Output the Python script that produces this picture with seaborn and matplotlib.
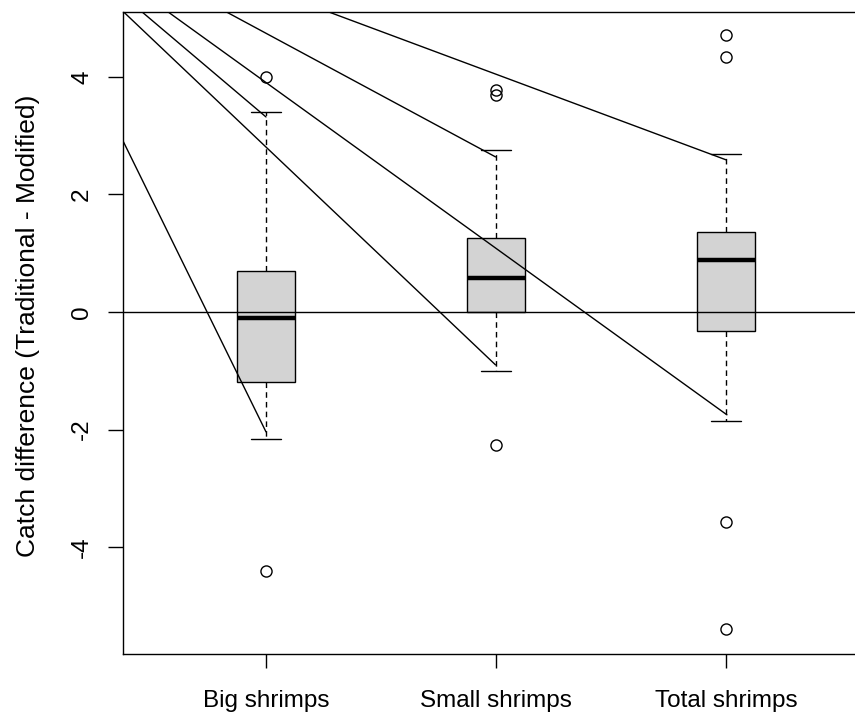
import matplotlib
matplotlib.use("Agg")
import matplotlib.pyplot as plt
import seaborn as sns
import pandas as pd

# ---- data ----
categories = ["Big shrimps", "Small shrimps", "Total shrimps"]
big_shrimps = [-4.40, -2.16, -1.60, -1.20, -0.80, -0.45, -0.10, 0.20, 0.45, 0.70, 1.50, 3.41, 4.00]
small_shrimps = [-2.26, -1.01, -0.50, 0.00, 0.20, 0.40, 0.58, 0.80, 1.00, 1.26, 2.75, 3.70, 3.78]
total_shrimps = [-5.40, -3.57, -1.86, -0.32, 0.10, 0.50, 0.88, 1.00, 1.20, 1.36, 2.69, 4.34, 4.71]

# slanted reference lines (start -> end), category axis units
seg_x0 = [-0.620, -0.620, -0.540, -0.427, -0.174, 0.270]
seg_y0 = [2.899, 5.111, 5.111, 5.111, 5.111, 5.111]
seg_x1 = [0.000, 0.998, 0.000, 2.004, 0.998, 2.000]
seg_y1 = [-2.04, -0.90, 3.32, -1.75, 2.64, 2.59]

y_ticks = [-4, -2, 0, 2, 4]
y_label = "Catch difference (Traditional - Modified)"

df = pd.concat([
    pd.DataFrame({"group": categories[0], "value": big_shrimps}),
    pd.DataFrame({"group": categories[1], "value": small_shrimps}),
    pd.DataFrame({"group": categories[2], "value": total_shrimps}),
])

sns.set_style("ticks")
plt.rcParams["font.family"] = ["Liberation Sans", "DejaVu Sans"]
plt.rcParams["text.color"] = "black"
plt.rcParams["axes.labelcolor"] = "black"
plt.rcParams["xtick.color"] = "black"
plt.rcParams["ytick.color"] = "black"

fig = plt.figure(figsize=(8.55, 7.17), dpi=100)
ax = fig.add_axes([0.1442, 0.08787, 0.8718, 0.8958])

sns.boxplot(
    data=df, x="group", y="value", order=categories, ax=ax,
    width=0.253, whis=1.5, color="#D3D3D3", linecolor="black", linewidth=1.0,
    medianprops=dict(linewidth=3.2, color="black", solid_capstyle="butt"),
    whiskerprops=dict(linestyle=(0, (4, 3)), color="black", linewidth=1.0),
    capprops=dict(color="black", linewidth=1.0),
    flierprops=dict(marker="o", markerfacecolor="none", markeredgecolor="black",
                    markersize=8, markeredgewidth=1.0),
    boxprops=dict(edgecolor="black", linewidth=1.0),
)

ax.axhline(0, color="black", linewidth=1.0, zorder=5)
for x0, y0, x1, y1 in zip(seg_x0, seg_y0, seg_x1, seg_y1):
    ax.plot([x0, x1], [y0, y1], color="black", linewidth=1.0, zorder=5)

ax.set_xlim(-0.6204, 2.6204)
ax.set_ylim(-5.821, 5.111)
ax.set_yticks(y_ticks)
ax.set_yticklabels([str(t) for t in y_ticks], rotation=90, va="center", fontsize=17.5, color="black")
ax.set_xticks(range(len(categories)))
ax.set_xticklabels(categories, fontsize=17.5, color="black")
ax.tick_params(axis="y", length=10.8, width=1.0, pad=11, color="black", labelcolor="black")
ax.tick_params(axis="x", length=10.0, width=1.0, pad=16, color="black", labelcolor="black")
ax.set_xlabel("")
ax.set_ylabel(y_label, fontsize=19, color="black")
ax.yaxis.set_label_coords(-0.1114, 0.511)

for side in ["left", "bottom", "top"]:
    ax.spines[side].set_visible(True)
    ax.spines[side].set_color("black")
    ax.spines[side].set_linewidth(1.0)
ax.spines["right"].set_visible(False)

fig.savefig("out.png", dpi=100)
